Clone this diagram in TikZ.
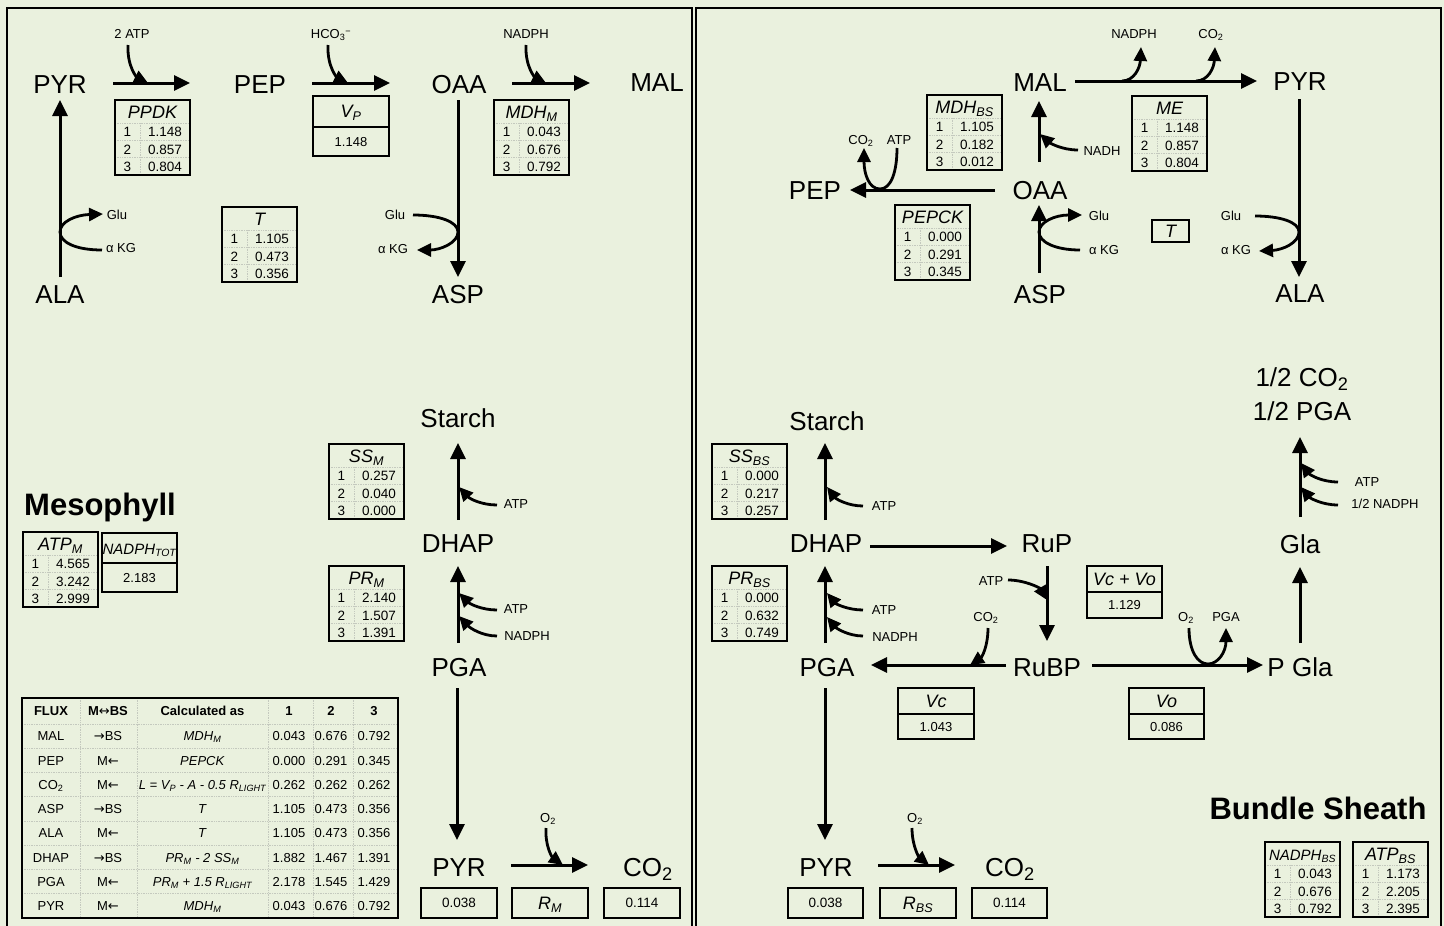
\documentclass[tikz,border=0pt]{standalone}
\usepackage{fontspec}
\setmainfont{Liberation Sans}
\newfontfamily\arrowfont{DejaVu Sans}
\usetikzlibrary{arrows.meta}
\definecolor{bgc}{HTML}{EAF1DE}
\definecolor{gridc}{HTML}{C4C9BE}

\newcommand{\rar}{{\arrowfont\mdseries\fontsize{13}{13}\selectfont →}}
\newcommand{\lar}{{\arrowfont\mdseries\fontsize{13}{13}\selectfont ←}}
\newcommand{\lrar}{{\arrowfont\mdseries\fontsize{13}{13}\selectfont ↔}}

\tikzset{
 metab/.style={font=\fontsize{26}{28}\selectfont, inner sep=0pt, text height=18.6pt, text depth=0pt},
 cof/.style={font=\fontsize{13}{14}\selectfont, inner sep=0pt, text height=9.3pt, text depth=0pt},
 ttl/.style={font=\fontsize{18}{20}\selectfont\itshape, inner sep=0pt, text height=12.9pt, text depth=0pt},
 tv/.style={font=\fontsize{13.5}{15}\selectfont, inner sep=0pt, text height=9.7pt, text depth=0pt},
 fx/.style={font=\fontsize{13}{14}\selectfont, inner sep=0pt, text height=9.3pt, text depth=0pt},
 regionlbl/.style={font=\fontsize{31}{33}\selectfont\bfseries, inner sep=0pt, text height=22.2pt, text depth=0pt},
 arr/.style={line width=3pt, -{Triangle[length=16pt,width=15pt]}},
 carr/.style={line width=2.8pt, -{Triangle[length=14pt,width=13pt]}},
 bx/.style={draw=black, line width=2.6pt},
 gridl/.style={draw=gridc, line width=0.7pt, densely dotted},
 panelframe/.style={draw=black, line width=2.2pt},
}

% three-row table: name, x, y (top-left), title, v1, v2, v3
\newcommand{\tabthree}[7]{%
\begin{scope}[shift={(#2,#3)}]
 \draw[gridl] (0,23) -- (75,23) (0,40.5) -- (75,40.5) (0,57.5) -- (75,57.5) (25,23) -- (25,75);
 \draw[bx] (0,0) rectangle (75,75);
 \node[ttl] (#1-t) at (37.5,12) {#4};
 \node[tv] (#1-n1) at (12.5,32) {1};
 \node[tv] (#1-v1) at (50,32) {#5};
 \node[tv] (#1-n2) at (12.5,49.5) {2};
 \node[tv] (#1-v2) at (50,49.5) {#6};
 \node[tv] (#1-n3) at (12.5,66.5) {3};
 \node[tv] (#1-v3) at (50,66.5) {#7};
\end{scope}}

% two-row box: name, x1, y1, x2, ydiv, y2, title, value
\newcommand{\tworow}[8]{%
 \draw[bx] (#2,#3) rectangle (#4,#6);
 \draw[bx] (#2,#5) -- (#4,#5);
 \node[ttl] (#1-t) at ({(#2+#4)/2},{(#3+#5)/2}) {#7};
 \node[tv, font=\fontsize{13}{14}\selectfont] (#1-v) at ({(#2+#4)/2},{(#5+#6)/2}) {#8};
}

% single box: name, x1, y1, x2, y2, content, style
\newcommand{\onebox}[7]{%
 \draw[bx] (#2,#3) rectangle (#4,#5);
 \node[#7] (#1) at ({(#2+#4)/2},{(#3+#5)/2}) {#6};
}

% flux table row
\newcommand{\frow}[8]{%
 \node[fx] (#1a) at (29,#2) {#3};
 \node[fx] (#1b) at (86,#2) {#4};
 \node[fx] (#1c) at (180.5,#2) {#5};
 \node[fx] (#1d) at (267,#2) {#6};
 \node[fx] (#1e) at (309,#2) {#7};
 \node[fx] (#1f) at (352,#2) {#8};
}

\begin{document}
\begin{tikzpicture}[x=1pt,y=-1pt]
\useasboundingbox (0,0) rectangle (1444,926);
\fill[bgc] (0,0) rectangle (1444,926);

% ---------- panels ----------
\draw[panelframe] (7,8) rectangle (692,945);
\draw[panelframe] (696,8) rectangle (1441,945);

% =================== MESOPHYLL ===================
\node[metab] (pyrM) at (60,84) {PYR};
\node[metab] (pepM) at (260,84) {PEP};
\node[metab] (oaaM) at (459,84) {OAA};
\node[metab] (malM) at (657,82) {MAL};
\node[metab] (alaM) at (60,294) {ALA};
\node[metab] (aspM) at (458,294) {ASP};
\node[metab] (starchM) at (458,418) {Starch};
\node[metab] (dhapM) at (458,543) {DHAP};
\node[metab] (pgaM) at (459,667) {PGA};
\node[metab] (pyrM2) at (459,867) {PYR};
\node[metab] (co2M) at (648,867) {CO\textsubscript{2}};

\draw[arr] ([shift={(53,-1)}]pyrM.center) -- ([shift={(-70,-1)}]pepM.center);
\draw[arr] ([shift={(52,-1)}]pepM.center) -- ([shift={(-69,-1)}]oaaM.center);
\draw[arr] ([shift={(53,-1)}]oaaM.center) -- ([shift={(-67,1)}]malM.center);
\draw[arr] ([shift={(0,-17)}]alaM.center) -- ([shift={(0,16)}]pyrM.center);
\draw[arr] ([shift={(-1,16)}]oaaM.center) -- ([shift={(0,-17)}]aspM.center);
\draw[arr] ([shift={(0,-23)}]dhapM.center) -- ([shift={(0,25)}]starchM.center);
\draw[arr] ([shift={(-1,-24)}]pgaM.center) -- ([shift={(0,23)}]dhapM.center);
\draw[arr] ([shift={(-2,21)}]pgaM.center) -- ([shift={(-2,-27)}]pyrM2.center);
\draw[arr] ([shift={(52,-2)}]pyrM2.center) -- ([shift={(-60,-2)}]co2M.center);

% cofactors
\node[cof] (atp2M) at (132,34) {2 ATP};
\coordinate (j1) at (148,83);
\draw[carr] ([shift={(-4,11)}]atp2M.center) .. controls (127,68) and (138,78) .. (j1);
\node[cof] (hco3M) at (331,34) {HCO\textsubscript{3}\textsuperscript{−}};
\coordinate (j2) at (348,83);
\draw[carr] ([shift={(-3,11)}]hco3M.center) .. controls (327,68) and (338,78) .. (j2);
\node[cof] (nadphM) at (526,34) {NADPH};
\coordinate (j3) at (546,83);
\draw[carr] ([shift={(0,11)}]nadphM.center) .. controls (525,68) and (536,78) .. (j3);

\node[cof] (gluM1) at (117,215) {Glu};
\node[cof] (akgM1) at (121,248) {α KG};
\coordinate (j4) at (60,232);
\draw[carr] ([shift={(-19,2)}]akgM1.center) .. controls (75,250) and (60,242) .. (j4) .. controls (60,222) and (75,215) .. ([shift={(-14,-1)}]gluM1.center);

\node[cof] (gluM2) at (395,215) {Glu};
\node[cof] (akgM2) at (393,249) {α KG};
\coordinate (j5) at (458,232);
\draw[carr] ([shift={(18,0)}]gluM2.center) .. controls (440,215) and (458,222) .. (j5) .. controls (458,243) and (440,250) .. ([shift={(24,1)}]akgM2.center);

\node[cof] (atpM1) at (516,504) {ATP};
\coordinate (j6) at (459,487);
\draw[carr] ([shift={(-19,1)}]atpM1.center) .. controls (482,505) and (470,499) .. (j6);
\node[cof] (atpM2) at (516,609) {ATP};
\coordinate (j7) at (459,593);
\draw[carr] ([shift={(-19,1)}]atpM2.center) .. controls (482,610) and (470,604) .. (j7);
\node[cof] (nadphM2) at (527,636) {NADPH};
\coordinate (j8) at (459,616);
\draw[carr] ([shift={(-30,0)}]nadphM2.center) .. controls (482,636) and (470,628) .. (j8);

\node[cof] (o2M) at (548,818) {O\textsubscript{2}};
\coordinate (j9) at (563,865);
\draw[carr] ([shift={(-2,10)}]o2M.center) .. controls (545,846) and (552,857) .. (j9);

% tables
\tabthree{ppdk}{115}{100}{PPDK}{1.148}{0.857}{0.804}
\tabthree{mdhm}{494}{100}{MDH\textsubscript{M}}{0.043}{0.676}{0.792}
\tabthree{tM}{222}{207}{T}{1.105}{0.473}{0.356}
\tabthree{ssm}{329}{444}{SS\textsubscript{M}}{0.257}{0.040}{0.000}
\tabthree{prm}{329}{566}{PR\textsubscript{M}}{2.140}{1.507}{1.391}
\tabthree{atpm}{23}{532}{ATP\textsubscript{M}}{4.565}{3.242}{2.999}
\tworow{vp}{313}{96}{389}{127}{156}{V\textsubscript{P}}{1.148}
\tworow{nadphtot}{102}{533}{177}{563}{592}{{\fontsize{15}{16}\selectfont NADPH\textsubscript{TOT}}}{2.183}
\onebox{m1}{421}{888}{497}{918}{0.038}{tv}
\onebox{m2}{512}{888}{588}{918}{R\textsubscript{M}}{ttl}
\onebox{m3}{604}{888}{680}{918}{0.114}{tv}

\node[regionlbl] (mesoL) at (100,504) {Mesophyll};

% flux table
\begin{scope}[shift={(22,698)}]
 \foreach \yy in {26,50.25,74.5,98.75,123,147.25,171.5,195.75} \draw[gridl] (0,\yy) -- (376,\yy);
 \foreach \xx in {58,115,246,291,331} \draw[gridl] (\xx,0) -- (\xx,220);
 \draw[bx] (0,0) rectangle (376,220);
 \frow{fh}{13}{\bfseries FLUX}{\bfseries M\lrar BS}{\bfseries Calculated as}{\bfseries 1}{\bfseries 2}{\bfseries 3}
 \frow{fa}{38.1}{MAL}{\rar BS}{\textit{MDH\textsubscript{M}}}{0.043}{0.676}{0.792}
 \frow{fb}{62.4}{PEP}{M\lar}{\textit{PEPCK}}{0.000}{0.291}{0.345}
 \frow{fc}{86.6}{CO\textsubscript{2}}{M\lar}{\textit{L = V\textsubscript{P} - A - 0.5 R\textsubscript{LIGHT}}}{0.262}{0.262}{0.262}
 \frow{fd}{110.9}{ASP}{\rar BS}{\textit{T}}{1.105}{0.473}{0.356}
 \frow{fe}{135.1}{ALA}{M\lar}{\textit{T}}{1.105}{0.473}{0.356}
 \frow{ff}{159.4}{DHAP}{\rar BS}{\textit{PR\textsubscript{M} - 2 SS\textsubscript{M}}}{1.882}{1.467}{1.391}
 \frow{fg}{183.6}{PGA}{M\lar}{\textit{PR\textsubscript{M} + 1.5 R\textsubscript{LIGHT}}}{2.178}{1.545}{1.429}
 \frow{fk}{207.9}{PYR}{M\lar}{\textit{MDH\textsubscript{M}}}{0.043}{0.676}{0.792}
\end{scope}

% =================== BUNDLE SHEATH ===================
\node[metab] (malB) at (1040,82) {MAL};
\node[metab] (pyrB) at (1300,81) {PYR};
\node[metab] (pepB) at (815,190) {PEP};
\node[metab] (oaaB) at (1040,190) {OAA};
\node[metab] (aspB) at (1040,294) {ASP};
\node[metab] (alaB) at (1300,293) {ALA};
\node[metab] (starchB) at (827,421) {Starch};
\node[metab] (dhapB) at (826,543) {DHAP};
\node[metab] (rupB) at (1047,543) {RuP};
\node[metab] (pgaB) at (827,667) {PGA};
\node[metab] (rubpB) at (1047,667) {RuBP};
\node[metab] (pglaB) at (1300,667) {P Gla};
\node[metab] (glaB) at (1300,544) {Gla};
\node[metab] (hco2B) at (1302,377) {1/2 CO\textsubscript{2}};
\node[metab] (hpgaB) at (1302,411) {1/2 PGA};
\node[metab] (pyrB2) at (826,867) {PYR};
\node[metab] (co2B) at (1010,867) {CO\textsubscript{2}};

\draw[arr] ([shift={(35,-1)}]malB.center) -- ([shift={(-43,0)}]pyrB.center);
\draw[arr] ([shift={(-1,-28)}]oaaB.center) -- ([shift={(-1,19)}]malB.center);
\draw[arr] ([shift={(-45,0)}]oaaB.center) -- ([shift={(35,0)}]pepB.center);
\draw[arr] ([shift={(-1,-21)}]aspB.center) -- ([shift={(-1,15)}]oaaB.center);
\draw[arr] ([shift={(-1,18)}]pyrB.center) -- ([shift={(-1,-16)}]alaB.center);
\draw[arr] ([shift={(-1,-23)}]dhapB.center) -- ([shift={(-2,22)}]starchB.center);
\draw[arr] ([shift={(-2,-24)}]pgaB.center) -- ([shift={(-1,23)}]dhapB.center);
\draw[arr] ([shift={(44,3)}]dhapB.center) -- ([shift={(-40,3)}]rupB.center);
\draw[arr] ([shift={(0,23)}]rupB.center) -- ([shift={(0,-26)}]rubpB.center);
\draw[arr] ([shift={(-41,-2)}]rubpB.center) -- ([shift={(44,-2)}]pgaB.center);
\draw[arr] ([shift={(45,-2)}]rubpB.center) -- ([shift={(-37,-2)}]pglaB.center);
\draw[arr] ([shift={(0,-24)}]pglaB.center) -- ([shift={(0,23)}]glaB.center);
\draw[arr] ([shift={(0,-27)}]glaB.center) -- ([shift={(-2,26)}]hpgaB.center);
\draw[arr] ([shift={(-2,21)}]pgaB.center) -- ([shift={(-1,-27)}]pyrB2.center);
\draw[arr] ([shift={(52,-2)}]pyrB2.center) -- ([shift={(-55,-2)}]co2B.center);

% cofactors
\node[cof] (nadphB1) at (1134,34) {NADPH};
\node[cof] (co2B1) at (1211,34) {CO\textsubscript{2}};
\coordinate (k1) at (1122,81);
\coordinate (k2) at (1196,81);
\draw[carr] (k1) .. controls (1134,81) and (1140,68) .. ([shift={(7,13)}]nadphB1.center);
\draw[carr] (k2) .. controls (1208,81) and (1214,68) .. ([shift={(4,13)}]co2B1.center);

\node[cof] (nadhB) at (1102,151) {NADH};
\coordinate (k3) at (1040,134);
\draw[carr] ([shift={(-24,-1)}]nadhB.center) .. controls (1062,150) and (1050,143) .. (k3);

\node[cof] (co2B2) at (861,140) {CO\textsubscript{2}};
\node[cof] (atpB1) at (899,140) {ATP};
\coordinate (k4) at (880,189);
\draw[carr] ([shift={(-2,8)}]atpB1.center) .. controls (897,172) and (891,189) .. (k4) .. controls (869,189) and (864,174) .. ([shift={(3,8)}]co2B2.center);

\node[cof] (gluB1) at (1099,216) {Glu};
\node[cof] (akgB1) at (1104,250) {α KG};
\coordinate (k5) at (1039,232);
\draw[carr] ([shift={(-24,0)}]akgB1.center) .. controls (1055,250) and (1039,242) .. (k5) .. controls (1039,222) and (1055,215) .. ([shift={(-17,-1)}]gluB1.center);

\node[cof] (gluB2) at (1231,216) {Glu};
\node[cof] (akgB2) at (1236,250) {α KG};
\coordinate (k6) at (1299,232);
\draw[carr] ([shift={(24,0)}]gluB2.center) .. controls (1280,216) and (1299,222) .. (k6) .. controls (1299,243) and (1282,250) .. ([shift={(23,1)}]akgB2.center);

\node[cof] (atpB2) at (884,506) {ATP};
\coordinate (k7) at (827,487);
\draw[carr] ([shift={(-21,0)}]atpB2.center) .. controls (848,506) and (836,499) .. (k7);
\node[cof] (atpB3) at (884,610) {ATP};
\coordinate (k8) at (827,593);
\draw[carr] ([shift={(-21,0)}]atpB3.center) .. controls (848,610) and (836,604) .. (k8);
\node[cof] (nadphB2) at (895,637) {NADPH};
\coordinate (k9) at (827,617);
\draw[carr] ([shift={(-32,-1)}]nadphB2.center) .. controls (848,636) and (836,628) .. (k9);

\node[cof] (atpB4) at (991,581) {ATP};
\coordinate (k10) at (1047,600);
\draw[carr] ([shift={(17,-1)}]atpB4.center) .. controls (1025,580) and (1040,588) .. (k10);

\node[cof] (co2B3) at (986,617) {CO\textsubscript{2}};
\coordinate (k11) at (970,665);
\draw[carr] ([shift={(2,11)}]co2B3.center) .. controls (988,646) and (982,657) .. (k11);

\node[cof] (o2B2) at (1186,617) {O\textsubscript{2}};
\node[cof] (pgaB3) at (1226,617) {PGA};
\coordinate (k12) at (1208,664);
\draw[carr] ([shift={(3,11)}]o2B2.center) .. controls (1189,652) and (1198,664) .. (k12) .. controls (1218,664) and (1226,652) .. ([shift={(0,11)}]pgaB3.center);

\node[cof] (atpB5) at (1367,482) {ATP};
\coordinate (k13) at (1301,463);
\draw[carr] ([shift={(-29,0)}]atpB5.center) .. controls (1322,482) and (1310,475) .. (k13);
\node[cof] (hnadph) at (1385,504) {1/2 NADPH};
\coordinate (k14) at (1301,487);
\draw[carr] ([shift={(-47,1)}]hnadph.center) .. controls (1322,505) and (1310,498) .. (k14);

\node[cof] (o2B3) at (915,818) {O\textsubscript{2}};
\coordinate (k15) at (929,865);
\draw[carr] ([shift={(-3,10)}]o2B3.center) .. controls (912,846) and (919,857) .. (k15);

% tables
\tabthree{mdhbs}{927}{95}{MDH\textsubscript{BS}}{1.105}{0.182}{0.012}
\tabthree{me}{1132}{96}{ME}{1.148}{0.857}{0.804}
\tabthree{pepck}{895}{205}{PEPCK}{0.000}{0.291}{0.345}
\tabthree{ssbs}{712}{444}{SS\textsubscript{BS}}{0.000}{0.217}{0.257}
\tabthree{prbs}{712}{566}{PR\textsubscript{BS}}{0.000}{0.632}{0.749}
\tabthree{nadphbs}{1265}{842}{{\fontsize{15}{16}\selectfont NADPH\textsubscript{BS}}}{0.043}{0.676}{0.792}
\tabthree{atpbs}{1353}{842}{ATP\textsubscript{BS}}{1.173}{2.205}{2.395}
\onebox{tB}{1152}{220}{1189}{242}{T}{ttl}
\tworow{vcvo}{1087}{566}{1162}{592}{618}{Vc + Vo}{1.129}
\tworow{vc}{898}{688}{974}{714}{739}{Vc}{1.043}
\tworow{vo}{1129}{688}{1204}{714}{739}{Vo}{0.086}
\onebox{b1}{788}{888}{863}{918}{0.038}{tv}
\onebox{b2}{880}{888}{956}{918}{R\textsubscript{BS}}{ttl}
\onebox{b3}{972}{888}{1047}{918}{0.114}{tv}

\node[regionlbl] (bsL) at (1318,808) {Bundle Sheath};
\end{tikzpicture}
\end{document}
